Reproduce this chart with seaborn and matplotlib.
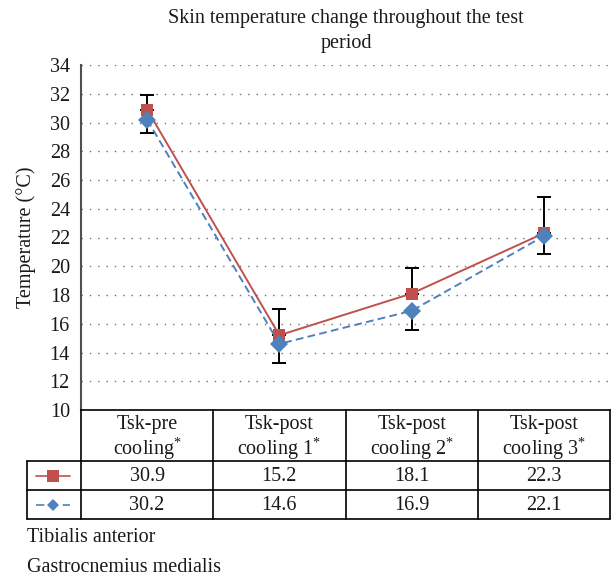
import matplotlib
matplotlib.use('Agg')
import matplotlib.pyplot as plt
import matplotlib.transforms as mtrans
from matplotlib.lines import Line2D
import seaborn as sns
import pandas as pd
import numpy as np

# ---- data ----
categories = ["Tsk-pre\ncooling$^{*}$", "Tsk-post\ncooling 1$^{*}$",
              "Tsk-post\ncooling 2$^{*}$", "Tsk-post\ncooling 3$^{*}$"]
series_names = ["Tibialis anterior", "Gastrocnemius medialis"]
tibialis = [30.9, 15.2, 18.1, 22.3]
gastro = [30.2, 14.6, 16.9, 22.1]
tibialis_err_up = [1.0, 1.8, 1.75, 2.5]
gastro_err_down = [0.9, 1.3, 1.35, 1.27]
yticks = [10, 12, 14, 16, 18, 20, 22, 24, 26, 28, 30, 32, 34]

RED = "#C0504D"
BLUE = "#4F81BD"
FS = 14.5

sns.set_theme(style="white")
plt.rcParams['font.family'] = ['Liberation Serif', 'DejaVu Serif']
plt.rcParams['mathtext.fontset'] = 'custom'
plt.rcParams['mathtext.rm'] = 'Liberation Serif'
plt.rcParams['mathtext.it'] = 'Liberation Serif:italic'

W, H = 611, 576
fig = plt.figure(figsize=(W / 100, H / 100), dpi=100)

def fx(px):
    return px / W

def fy(py):
    return 1 - py / H

ax_left, ax_right, ax_top, ax_bot = 81, 610, 65, 410
ax = fig.add_axes([fx(ax_left), fy(ax_bot), fx(ax_right - ax_left), (ax_bot - ax_top) / H])

pos = list(range(len(categories)))
df = pd.DataFrame({
    "pos": pos * 2,
    "value": tibialis + gastro,
    "series": [series_names[0]] * 4 + [series_names[1]] * 4,
})

# error bars (one-sided) behind the markers
ax.errorbar(pos, tibialis, yerr=[np.zeros(4), tibialis_err_up], fmt='none',
            ecolor='black', elinewidth=1.4, capsize=5, capthick=1.4, zorder=1.5)
ax.errorbar(pos, gastro, yerr=[gastro_err_down, np.zeros(4)], fmt='none',
            ecolor='black', elinewidth=1.4, capsize=5, capthick=1.4, zorder=1.5)

sns.lineplot(data=df, x="pos", y="value", hue="series", style="series",
             palette={series_names[0]: RED, series_names[1]: BLUE},
             markers={series_names[0]: 's', series_names[1]: 'D'},
             dashes={series_names[0]: '', series_names[1]: (4, 2.2)},
             markersize=9, markeredgewidth=0, linewidth=1.4,
             legend=False, ax=ax, zorder=3)

ax.set_xlim(-0.5, 3.5)
ax.set_ylim(10, 34)
ax.set_yticks(yticks)
ax.set_xticks([])
ax.set_xlabel("")
ax.set_ylabel("")
ax.tick_params(axis='y', length=0, pad=8, labelsize=FS, colors='#1a1a1a')
ax.yaxis.grid(True, linestyle=(0, (1, 5)), color='#707070', linewidth=1.0)
ax.set_axisbelow(True)
for s in ['top', 'right']:
    ax.spines[s].set_visible(False)
ax.spines['left'].set_color('#505050')
ax.spines['left'].set_linewidth(1.5)
ax.spines['bottom'].set_color('black')
ax.spines['bottom'].set_linewidth(1.2)

# title and y label
fig.text(fx(346), fy(31), "Skin temperature change throughout the test\nperiod",
         ha='center', va='center', fontsize=FS, linespacing=1.45, color='#1a1a1a')
fig.text(fx(26), fy(237), "Temperature (°C)", rotation=90, ha='center', va='center',
         fontsize=FS, color='#1a1a1a')

# ---- data table below the axes ----
blend = mtrans.blended_transform_factory(ax.transData, fig.transFigure)
row_y = [410, 461, 490, 519]
lab_left = 27
lw = 1.2

for i, y in enumerate(row_y):
    if i == 0:
        continue
    fig.add_artist(Line2D([fx(lab_left), fx(ax_right)], [fy(y), fy(y)],
                          transform=fig.transFigure, color='black', lw=lw))
for xb in [-0.5, 0.5, 1.5, 2.5, 3.5]:
    fig.add_artist(Line2D([xb, xb], [fy(row_y[0]), fy(row_y[3])],
                          transform=blend, color='black', lw=lw))
fig.add_artist(Line2D([fx(lab_left), fx(lab_left)], [fy(row_y[1]), fy(row_y[3])],
                      transform=fig.transFigure, color='black', lw=lw))

for i, cat in enumerate(categories):
    fig.text(i, fy((row_y[0] + row_y[1]) / 2 + 3), cat, transform=blend,
             ha='center', va='center', fontsize=FS, linespacing=1.1, color='#1a1a1a')
    fig.text(i, fy((row_y[1] + row_y[2]) / 2 + 1), f"{tibialis[i]:.1f}", transform=blend,
             ha='center', va='center', fontsize=FS, color='#1a1a1a')
    fig.text(i, fy((row_y[2] + row_y[3]) / 2 + 1), f"{gastro[i]:.1f}", transform=blend,
             ha='center', va='center', fontsize=FS, color='#1a1a1a')

# legend keys in the table
ky1 = fy((row_y[1] + row_y[2]) / 2)
ky2 = fy((row_y[2] + row_y[3]) / 2)
fig.add_artist(Line2D([fx(36), fx(70)], [ky1, ky1], transform=fig.transFigure,
                      color=RED, lw=1.2))
fig.add_artist(Line2D([fx(53)], [ky1], transform=fig.transFigure, marker='s',
                      markersize=8, color=RED, markeredgewidth=0, linestyle='none'))
fig.add_artist(Line2D([fx(36), fx(70)], [ky2, ky2], transform=fig.transFigure,
                      color=BLUE, lw=1.2, dashes=(5, 3)))
fig.add_artist(Line2D([fx(53)], [ky2], transform=fig.transFigure, marker='D',
                      markersize=6.5, color=BLUE, markeredgewidth=0, linestyle='none'))

# series names below the table
fig.text(fx(27), fy(538), series_names[0], ha='left', va='center', fontsize=FS, color='#1a1a1a')
fig.text(fx(27), fy(567), series_names[1], ha='left', va='center', fontsize=FS, color='#1a1a1a')

fig.savefig("out.png", dpi=100)
